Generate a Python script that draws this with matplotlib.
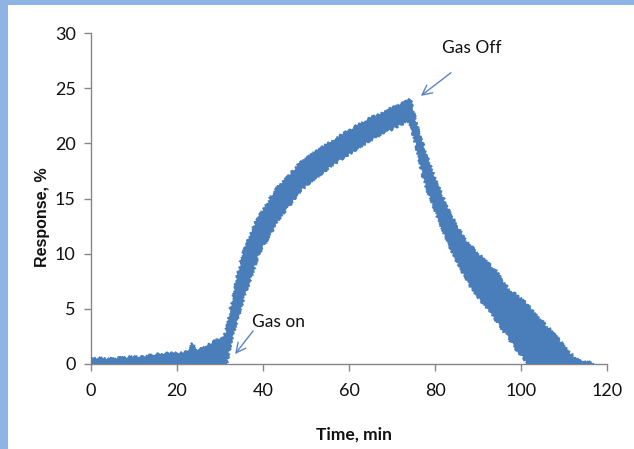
import numpy as np
import matplotlib
matplotlib.use("Agg")
import matplotlib.pyplot as plt
from matplotlib.patches import Rectangle

# Upper edge of the response trace (time in min, response in %)
upper_time = [0, 2, 5, 8, 12, 16, 20, 23, 23.6, 24.2, 26, 28, 30, 30.6,
              31.5, 33, 35.3, 38.5, 43, 48.6, 56.3, 64, 70, 73, 74.2,
              75.5, 77.5, 80, 83.5, 87, 90.5, 94, 97, 100.5, 104, 107,
              110.7, 112.5, 114, 115.5, 117]
upper_resp = [0.6, 0.5, 0.45, 0.6, 0.65, 0.9, 1.0, 1.1, 1.9, 1.1, 1.5, 1.9, 2.3, 2.3,
              3.0, 6.1, 10.0, 13.0, 15.8, 18.2, 20.3, 22.1, 23.2, 23.7, 24.0,
              22.0, 19.5, 16.7, 13.6, 11.2, 9.8, 8.5, 6.8, 5.8, 4.2, 3.0,
              1.3, 0.5, 0.2, 0.15, 0.1]

# Lower edge of the response trace
lower_time = [0, 31.4, 32.8, 35.6, 39.0, 43.5, 48.8, 56.3, 64.5, 73.5, 74.2,
              75.5, 77.5, 80, 82.8, 85.5, 88, 91, 95.8, 99, 102, 117]
lower_resp = [-0.1, -0.1, 2.5, 6.1, 10.0, 13.0, 15.8, 18.1, 20.2, 22.0, 21.9,
              20.0, 16.5, 14.0, 11.2, 9.0, 7.2, 5.6, 3.1, 1.3, -0.1, -0.1]

x_ticks = [0, 20, 40, 60, 80, 100, 120]
y_ticks = [0, 5, 10, 15, 20, 25, 30]

gas_on_text = (43.5, 3.8)
gas_on_arrow = ((37.7, 3.0), (33.5, 0.9))
gas_off_text = (88.6, 28.6)
gas_off_arrow = ((83.7, 26.4), (76.7, 24.3))

BLUE = "#4A7EBB"
ARROW = "#5B84C4"
AXIS = "#868686"
BORDER = "#8DB4E2"

LABEL_FONT = ["Lato", "DejaVu Sans"]

fig = plt.figure(figsize=(6.34, 4.49), dpi=100)
fig.patch.set_facecolor("white")

# light blue frame along the top and left edges
fig.patches.append(Rectangle((0, 0), 8 / 634, 1, transform=fig.transFigure,
                             facecolor=BORDER, edgecolor="none", zorder=0))
fig.patches.append(Rectangle((0, 1 - 5 / 449), 1, 5 / 449, transform=fig.transFigure,
                             facecolor=BORDER, edgecolor="none", zorder=0))

ax = fig.add_axes([91 / 634, 85 / 449, 516 / 634, 331 / 449])

band_x = np.concatenate([upper_time, lower_time[::-1]])
band_y = np.concatenate([upper_resp, lower_resp[::-1]])
poly = ax.fill(band_x, band_y, color=BLUE, lw=1.2, zorder=2)[0]
poly.set_sketch_params(scale=1.3, length=2.5, randomness=6)

ax.set_xlim(0, 120)
ax.set_ylim(0, 30)
ax.set_xticks(x_ticks)
ax.set_yticks(y_ticks)

for side in ("top", "right"):
    ax.spines[side].set_visible(False)
for side in ("left", "bottom"):
    ax.spines[side].set_color(AXIS)
    ax.spines[side].set_linewidth(1.0)
    ax.spines[side].set_zorder(1)

ax.tick_params(axis="both", direction="out", length=5, width=1.0, color=AXIS,
               labelsize=13, labelcolor="#111111")
ax.tick_params(axis="y", pad=6)
ax.tick_params(axis="x", pad=9)
for lab in ax.get_xticklabels() + ax.get_yticklabels():
    lab.set_family(LABEL_FONT)

ax.set_xlabel("Time, min", family=LABEL_FONT, fontsize=12.5, fontweight="bold",
              color="#111111")
ax.xaxis.set_label_coords(0.51, -0.19)
ax.set_ylabel("Response, %", family=["Liberation Sans", "DejaVu Sans"], fontsize=11.5,
              fontweight="bold", color="#111111")
ax.yaxis.set_label_coords(-0.079, 0.445)

ax.text(*gas_on_text, "Gas on", family=LABEL_FONT, fontsize=12.5, ha="center",
        va="center", color="#111111")
ax.text(*gas_off_text, "Gas Off", family=LABEL_FONT, fontsize=12.5, ha="center",
        va="center", color="#111111", clip_on=False)

for tail, head in (gas_on_arrow, gas_off_arrow):
    ax.annotate("", xy=head, xytext=tail,
                arrowprops=dict(arrowstyle="->,head_length=0.7,head_width=0.35",
                                color=ARROW, lw=1.0, shrinkA=0, shrinkB=0))

fig.savefig("out.png", dpi=100)
